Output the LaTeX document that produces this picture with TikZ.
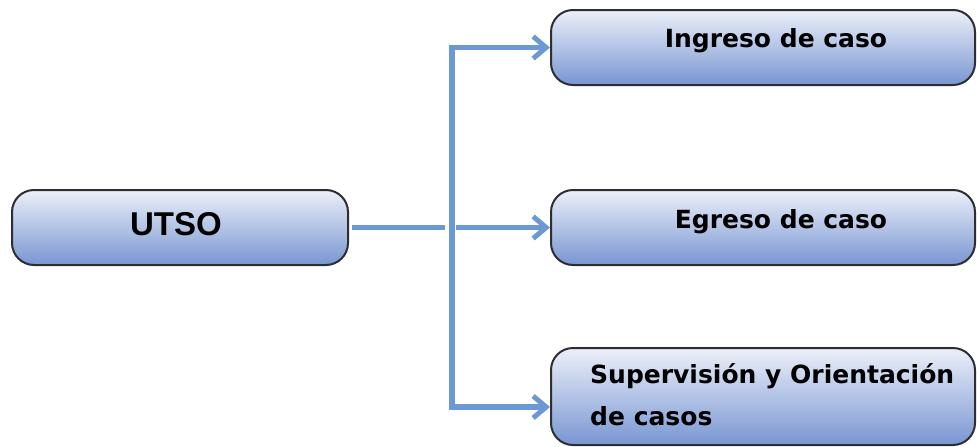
\documentclass[tikz,border=0pt]{standalone}
\usepackage{fontspec}
\setmainfont{DejaVu Sans}
\newfontfamily\headfont{Liberation Sans}
\usetikzlibrary{arrows.meta}
\definecolor{linkblue}{RGB}{108,153,212}
\definecolor{boxtop}{RGB}{236,240,249}
\definecolor{boxbot}{RGB}{120,150,210}
\definecolor{boxedge}{RGB}{45,45,50}
\tikzset{
  box/.style={draw=boxedge, line width=2pt, rounded corners=22pt,
    top color=boxtop, bottom color=boxbot, inner sep=0pt},
  label/.style={inner sep=0pt, anchor=base, text=black},
  link/.style={draw=linkblue, line width=5.5pt},
  barb/.style={-{Straight Barb[length=13pt,width=22pt,line width=5pt]}}
}
\begin{document}
\begin{tikzpicture}[x=1pt,y=-1pt]
  \useasboundingbox (0,0) rectangle (977,447);
  % boxes
  \node[box, minimum width=336pt, minimum height=75pt] (utso) at (180,227.5) {};
  \node[box, minimum width=424pt, minimum height=75pt] (ingreso) at (763,47.5) {};
  \node[box, minimum width=424pt, minimum height=75pt] (egreso) at (763,227.5) {};
  \node[box, minimum width=424pt, minimum height=97pt] (sup) at (763,396.5) {};
  % texts
  \node[label, font=\headfont\bfseries\fontsize{33}{36}\selectfont] (tUtso) at (176,235.5) {UTSO};
  \node[label, font=\bfseries\fontsize{25}{30}\selectfont] (tIngreso) at (776,47) {Ingreso de caso};
  \node[label, font=\bfseries\fontsize{25}{30}\selectfont] (tEgreso) at (781,228) {Egreso de caso};
  \node[label, anchor=base west, font=\bfseries\fontsize{25}{30}\selectfont] (tSup1) at (590,383) {Supervisión y Orientación};
  \node[label, anchor=base west, font=\bfseries\fontsize{25}{30}\selectfont] (tSup2) at (590,425) {de casos};
  % trunk and branch points
  \coordinate (trunkTop) at (452,47.5);
  \coordinate (trunkBot) at (452,407);
  \coordinate (hopL) at (445,227.5);
  \coordinate (hopR) at (456,227.5);
  % connectors
  \draw[link, barb, line join=miter] (trunkBot) -- (trunkTop) -- (ingreso.west);
  \draw[link, barb, line cap=rect] (trunkBot) -- (trunkBot -| sup.west);
  \draw[link, shorten <=3pt] (utso.east) -- (hopL);
  \draw[link, barb] (hopR) -- (egreso.west);
\end{tikzpicture}
\end{document}
